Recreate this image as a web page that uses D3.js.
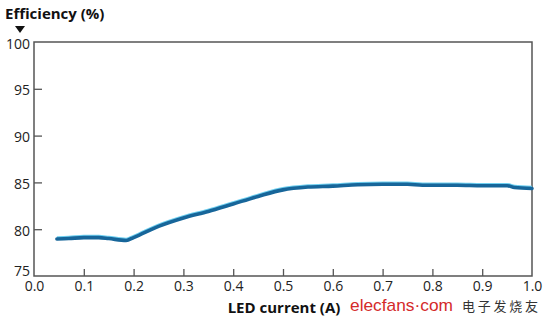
<!DOCTYPE html>
<html><head><meta charset="utf-8">
<script src="https://cdn.jsdelivr.net/npm/d3@7"></script>
<style>body{margin:0;background:#fff}svg{display:block}</style>
</head><body>
<svg id="c" width="553" height="322"></svg>
<script>
const currents   = [0.046,0.07,0.10,0.13,0.15,0.185,0.20,0.25,0.30,0.35,0.40,0.45,0.50,0.55,0.60,0.65,0.70,0.75,0.78,0.80,0.85,0.90,0.95,0.965,1.00];
const efficiency = [78.95,79.0,79.1,79.1,79.0,78.8,79.1,80.3,81.2,81.9,82.7,83.5,84.2,84.5,84.6,84.75,84.8,84.8,84.7,84.7,84.7,84.65,84.65,84.45,84.35];
const xTicks = [0.0,0.1,0.2,0.3,0.4,0.5,0.6,0.7,0.8,0.9,1.0];
const yTicks = [75,80,85,90,95,100];

const svg = d3.select("#c");
const x = d3.scaleLinear().domain([0,1]).range([34,532]);
const y = d3.scaleLinear().domain([75,100]).range([276,42]);
const font = "'Open Sans', 'Noto Sans', sans-serif";

// frame
svg.append("rect").attr("x",x(0)).attr("y",y(100)).attr("width",x(1)-x(0)).attr("height",y(75)-y(100))
  .attr("fill","none").attr("stroke","#555").attr("stroke-width",1.5);

// y axis ticks (inward)
const yAxis = d3.axisLeft(y).tickValues(yTicks).tickSize(-8).tickFormat(d=>d).tickSizeOuter(0);
const gy = svg.append("g").attr("transform",`translate(${x(0)},0)`).call(yAxis);
gy.select(".domain").remove();
gy.selectAll(".tick line").attr("stroke","#555").attr("stroke-width",1.3);
gy.selectAll(".tick line").filter(d=>d===75||d===100).remove();
gy.selectAll(".tick text").attr("x",-4).attr("dy",null).attr("dominant-baseline",null)
  .attr("y",d=> d===75 ? -1 : 6)
  .attr("font-family",font).attr("font-size",14).attr("fill","#222");

// x axis ticks (inward)
const xAxis = d3.axisBottom(x).tickValues(xTicks).tickSize(-7).tickFormat(d3.format(".1f")).tickSizeOuter(0);
const gx = svg.append("g").attr("transform",`translate(0,${y(75)})`).call(xAxis);
gx.select(".domain").remove();
gx.selectAll(".tick line").attr("stroke","#555").attr("stroke-width",1.3);
gx.selectAll(".tick line").filter(d=>d===0||d===1).remove();
gx.selectAll(".tick text").attr("dy",null).attr("y",15)
  .attr("font-family",font).attr("font-size",14).attr("fill","#222");

// curve
const line = d3.line().x((d,i)=>x(currents[i])).y(d=>y(d)).curve(d3.curveMonotoneX);
svg.append("path").datum(efficiency).attr("d",line).attr("fill","none")
  .attr("stroke","#6fd0f0").attr("stroke-width",3.6).attr("transform","translate(0,-1)");
svg.append("path").datum(efficiency).attr("d",line).attr("fill","none")
  .attr("stroke","#17669a").attr("stroke-width",3.6).attr("stroke-linecap","round");

// titles
svg.append("text").attr("x",5).attr("y",19).text("Efficiency (%)")
  .attr("font-family",font).attr("font-size",15).attr("font-weight","bold").attr("fill","#111");
svg.append("path").attr("d","M15,26 L25,26 L20,33 Z").attr("fill","#111");
svg.append("text").attr("x",284).attr("y",313).attr("text-anchor","middle").text("LED current (A)")
  .attr("font-family",font).attr("font-size",15).attr("font-weight","bold").attr("fill","#111");

// watermark
svg.append("text").attr("x",350).attr("y",311).text("elecfans·com")
  .attr("font-family","'Liberation Sans', Arial, sans-serif").attr("font-size",17).attr("fill","#d42a2a")
  .attr("textLength",103).attr("lengthAdjust","spacingAndGlyphs");
svg.append("text").attr("x",462).attr("y",311).text("电子发烧友")
  .attr("font-family","'Noto Sans CJK SC', sans-serif").attr("font-size",13).attr("fill","#333")
  .attr("textLength",76);
</script>
</body></html>
